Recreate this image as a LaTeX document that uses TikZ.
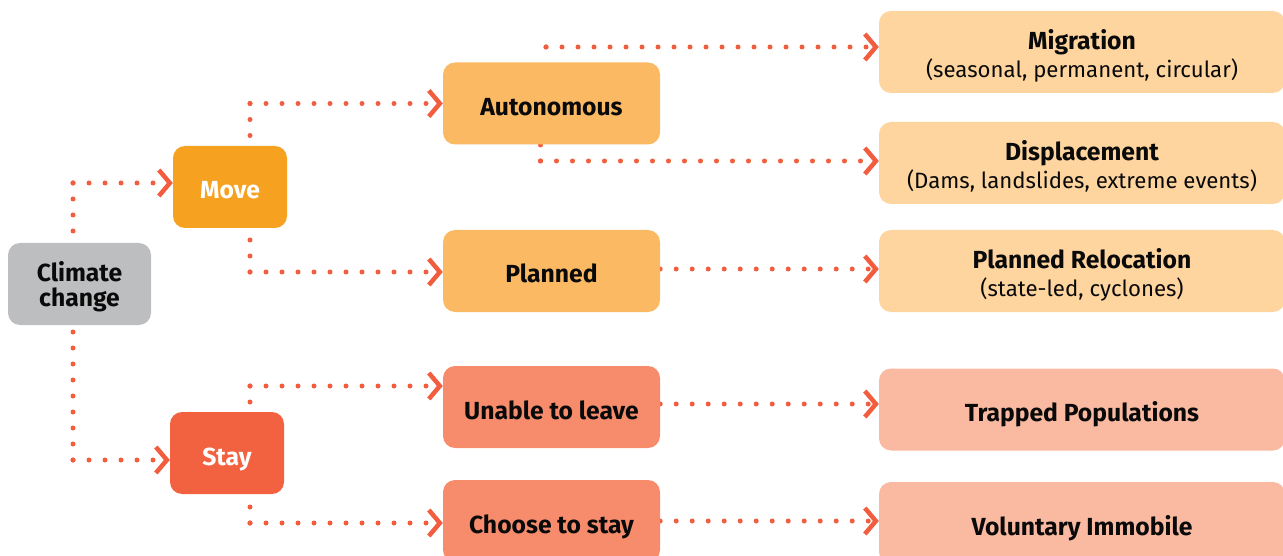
\documentclass[tikz,border=0pt]{standalone}
\usepackage{fontspec}
\setmainfont{Fira Sans}
\usetikzlibrary{arrows.meta,backgrounds}
\definecolor{cgray}{HTML}{BDBEC0}
\definecolor{cmove}{HTML}{F6A11F}
\definecolor{cstay}{HTML}{F26241}
\definecolor{cmid}{HTML}{FCB964}
\definecolor{cmidr}{HTML}{F68C6C}
\definecolor{cright}{HTML}{FED59E}
\definecolor{crightr}{HTML}{FABAA1}
\definecolor{cline}{HTML}{F15D3E}
\definecolor{ctext}{HTML}{0A0A0A}
\newcommand\subtxt{\fontsize{22.2}{28}\selectfont\mdseries}
\begin{document}
\begin{tikzpicture}[x=1pt,y=-1pt,
  box/.style={rounded corners=12pt, minimum height=82pt, inner sep=0pt, align=center,
    text=ctext, font=\fontsize{24.7}{28}\selectfont\bfseries, text height=24pt, text depth=0pt},
  two/.style={text height=51.5pt, text depth=0pt},
  wide/.style={box, minimum width=406pt},
  mid/.style={box, minimum width=217pt},
  dots/.style={draw=cline, line width=5pt, line cap=round, dash pattern=on 0pt off 16pt},
  conn/.style={dots, -{Straight Barb[length=11pt,width=26pt,line width=4.5pt]}},
]
\useasboundingbox (0,0) rectangle (1283,556);
\clip (0,0) rectangle (1283,556);

% nodes
\node[box, fill=cgray, minimum width=143pt, font=\fontsize{24.7}{25}\selectfont\bfseries,
      text height=45.4pt, text depth=0pt] (climate) at (79.5,284) {Climate\\change};
\node[box, fill=cmove, minimum width=114pt, text=white] (move) at (230,187) {Move};
\node[box, fill=cstay, minimum width=114pt, text=white] (stay) at (227,453) {Stay};
\node[mid, fill=cmid] (auto) at (551.5,103.5) {Autonomous};
\node[mid, fill=cmid] (planned) at (551.5,271) {Planned};
\node[mid, fill=cmidr] (unable) at (551.5,407) {Unable to leave};
\node[mid, fill=cmidr] (choose) at (551.5,521) {Choose to stay};
\node[wide, two, fill=cright] (migration) at (1082,52) {Migration\\{\subtxt (seasonal, permanent, circular)}};
\node[wide, two, fill=cright] (displacement) at (1082,163) {Displacement\\{\subtxt (Dams, landslides, extreme events)}};
\node[wide, two, fill=cright] (relocation) at (1082,271) {Planned Relocation\\{\subtxt (state-led, cyclones)}};
\node[wide, fill=crightr] (trapped) at (1082,409.5) {Trapped Populations};
\node[wide, fill=crightr] (voluntary) at (1082,523) {Voluntary Immobile};

% connector end points
\coordinate (s1) at ([xshift=-6.5pt]climate.north); \coordinate (t1) at ([yshift=4pt]move.west);
\coordinate (s2) at ([xshift=-6.5pt]climate.south); \coordinate (t2) at ([yshift=-7pt]stay.west);
\coordinate (s3) at ([xshift=20pt]move.north);      \coordinate (t3) at (auto.west);
\coordinate (s4) at ([xshift=20pt]move.south);      \coordinate (t4) at ([yshift=-1pt]planned.west);
\coordinate (s5) at ([xshift=-5.5pt]auto.north);    \coordinate (t5) at ([yshift=5pt]migration.west);
\coordinate (s6) at ([xshift=-11pt]auto.south);     \coordinate (t6) at ([yshift=2pt]displacement.west);
\coordinate (s7) at ([xshift=23pt]stay.north);      \coordinate (t7) at ([yshift=21pt]unable.west);
\coordinate (s8) at ([xshift=23pt]stay.south);      \coordinate (t8) at ([yshift=-2pt]choose.west);
\coordinate (s9) at ([yshift=2pt]planned.east);
\coordinate (s10) at ([yshift=3pt]unable.east);
\coordinate (s11) at (choose.east);

\begin{scope}[on background layer]
\foreach \i in {1,...,8}{
  \draw[dots] (s\i |- t\i) -- (s\i);
  \draw[conn] (s\i |- t\i) -- (t\i);
}
\draw[conn] (s9) -- (s9 -| relocation.west);
\draw[conn] (s10) -- (s10 -| trapped.west);
\draw[conn] (s11) -- (s11 -| voluntary.west);
\end{scope}
\end{tikzpicture}
\end{document}
